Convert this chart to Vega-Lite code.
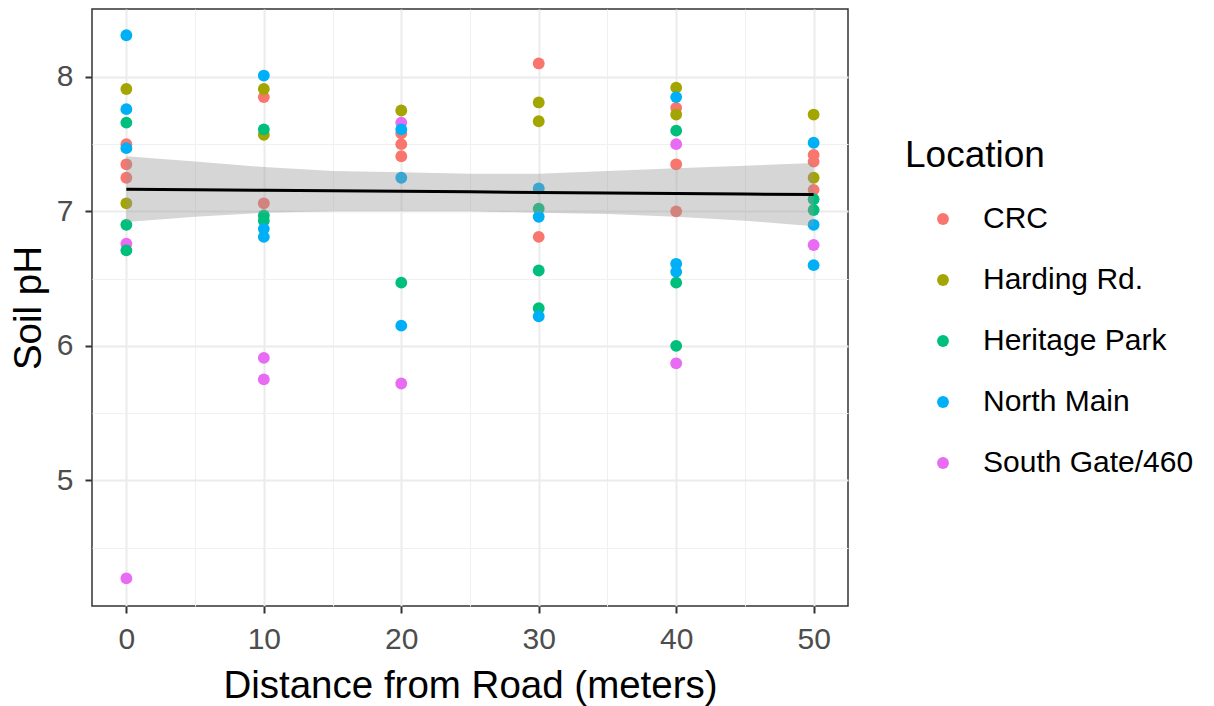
{
  "$schema": "https://vega.github.io/schema/vega-lite/v6.json",
  "width": 756,
  "height": 597,
  "autosize": {"type": "none"},
  "padding": {"left": 92, "top": 9, "right": 366, "bottom": 100},
  "background": "white",
  "config": {
    "font": "Liberation Sans",
    "view": {"stroke": "#333333", "strokeWidth": 1.5},
    "axis": {
      "domain": false,
      "gridColor": "#EBEBEB",
      "tickColor": "#333333",
      "labelColor": "#4D4D4D",
      "labelFont": "Liberation Sans",
      "titleFont": "Liberation Sans",
      "titleColor": "#000000",
      "titleFontWeight": "normal"
    },
    "legend": {
      "labelFont": "Liberation Sans",
      "titleFont": "Liberation Sans"
    }
  },
  "datasets": {
    "pts": [
      {"distance": 0, "ph": 7.50, "location": "CRC"},
      {"distance": 0, "ph": 7.35, "location": "CRC"},
      {"distance": 0, "ph": 7.25, "location": "CRC"},
      {"distance": 0, "ph": 7.91, "location": "Harding Rd."},
      {"distance": 0, "ph": 7.06, "location": "Harding Rd."},
      {"distance": 0, "ph": 7.66, "location": "Heritage Park"},
      {"distance": 0, "ph": 6.90, "location": "Heritage Park"},
      {"distance": 0, "ph": 8.31, "location": "North Main"},
      {"distance": 0, "ph": 7.76, "location": "North Main"},
      {"distance": 0, "ph": 7.47, "location": "North Main"},
      {"distance": 0, "ph": 6.76, "location": "South Gate/460"},
      {"distance": 0, "ph": 4.27, "location": "South Gate/460"},
      {"distance": 0, "ph": 6.71, "location": "Heritage Park"},
      {"distance": 10, "ph": 7.85, "location": "CRC"},
      {"distance": 10, "ph": 7.06, "location": "CRC"},
      {"distance": 10, "ph": 7.91, "location": "Harding Rd."},
      {"distance": 10, "ph": 7.57, "location": "Harding Rd."},
      {"distance": 10, "ph": 7.61, "location": "Heritage Park"},
      {"distance": 10, "ph": 6.97, "location": "Heritage Park"},
      {"distance": 10, "ph": 6.93, "location": "Heritage Park"},
      {"distance": 10, "ph": 8.01, "location": "North Main"},
      {"distance": 10, "ph": 6.87, "location": "North Main"},
      {"distance": 10, "ph": 6.81, "location": "North Main"},
      {"distance": 10, "ph": 5.91, "location": "South Gate/460"},
      {"distance": 10, "ph": 5.75, "location": "South Gate/460"},
      {"distance": 20, "ph": 7.58, "location": "CRC"},
      {"distance": 20, "ph": 7.50, "location": "CRC"},
      {"distance": 20, "ph": 7.41, "location": "CRC"},
      {"distance": 20, "ph": 7.75, "location": "Harding Rd."},
      {"distance": 20, "ph": 6.47, "location": "Heritage Park"},
      {"distance": 20, "ph": 7.66, "location": "South Gate/460"},
      {"distance": 20, "ph": 7.61, "location": "North Main"},
      {"distance": 20, "ph": 7.25, "location": "North Main"},
      {"distance": 20, "ph": 6.15, "location": "North Main"},
      {"distance": 20, "ph": 5.72, "location": "South Gate/460"},
      {"distance": 30, "ph": 8.10, "location": "CRC"},
      {"distance": 30, "ph": 6.81, "location": "CRC"},
      {"distance": 30, "ph": 7.81, "location": "Harding Rd."},
      {"distance": 30, "ph": 7.67, "location": "Harding Rd."},
      {"distance": 30, "ph": 7.02, "location": "Heritage Park"},
      {"distance": 30, "ph": 6.56, "location": "Heritage Park"},
      {"distance": 30, "ph": 6.28, "location": "Heritage Park"},
      {"distance": 30, "ph": 7.17, "location": "North Main"},
      {"distance": 30, "ph": 6.96, "location": "North Main"},
      {"distance": 30, "ph": 6.22, "location": "North Main"},
      {"distance": 40, "ph": 7.77, "location": "CRC"},
      {"distance": 40, "ph": 7.35, "location": "CRC"},
      {"distance": 40, "ph": 7.00, "location": "CRC"},
      {"distance": 40, "ph": 7.92, "location": "Harding Rd."},
      {"distance": 40, "ph": 7.72, "location": "Harding Rd."},
      {"distance": 40, "ph": 7.60, "location": "Heritage Park"},
      {"distance": 40, "ph": 6.47, "location": "Heritage Park"},
      {"distance": 40, "ph": 6.00, "location": "Heritage Park"},
      {"distance": 40, "ph": 7.85, "location": "North Main"},
      {"distance": 40, "ph": 6.61, "location": "North Main"},
      {"distance": 40, "ph": 6.55, "location": "North Main"},
      {"distance": 40, "ph": 7.50, "location": "South Gate/460"},
      {"distance": 40, "ph": 5.87, "location": "South Gate/460"},
      {"distance": 50, "ph": 7.42, "location": "CRC"},
      {"distance": 50, "ph": 7.37, "location": "CRC"},
      {"distance": 50, "ph": 7.16, "location": "CRC"},
      {"distance": 50, "ph": 7.72, "location": "Harding Rd."},
      {"distance": 50, "ph": 7.25, "location": "Harding Rd."},
      {"distance": 50, "ph": 7.09, "location": "Heritage Park"},
      {"distance": 50, "ph": 7.01, "location": "Heritage Park"},
      {"distance": 50, "ph": 7.51, "location": "North Main"},
      {"distance": 50, "ph": 6.90, "location": "North Main"},
      {"distance": 50, "ph": 6.60, "location": "North Main"},
      {"distance": 50, "ph": 6.75, "location": "South Gate/460"}
    ],
    "fit": [
      {"distance": 0, "lo": 6.92, "hi": 7.41, "fit": 7.165},
      {"distance": 5, "lo": 6.96, "hi": 7.37, "fit": 7.161},
      {"distance": 10, "lo": 6.99, "hi": 7.33, "fit": 7.157},
      {"distance": 15, "lo": 7.00, "hi": 7.30, "fit": 7.153},
      {"distance": 20, "lo": 7.00, "hi": 7.29, "fit": 7.149},
      {"distance": 25, "lo": 7.00, "hi": 7.28, "fit": 7.145},
      {"distance": 30, "lo": 6.99, "hi": 7.28, "fit": 7.141},
      {"distance": 35, "lo": 6.98, "hi": 7.30, "fit": 7.137},
      {"distance": 40, "lo": 6.96, "hi": 7.32, "fit": 7.133},
      {"distance": 45, "lo": 6.93, "hi": 7.34, "fit": 7.129},
      {"distance": 50, "lo": 6.89, "hi": 7.36, "fit": 7.125}
    ]
  },
  "layer": [
    {
      "data": {"name": "fit"},
      "mark": {"type": "area", "opacity": 0},
      "encoding": {
        "x": {
          "field": "distance", "type": "quantitative",
          "scale": {"domain": [-2.5, 52.5], "nice": false, "zero": false},
          "axis": {"orient": "bottom", "values": [5, 15, 25, 35, 45], "grid": true, "gridWidth": 1, "gridColor": "#F0F0F0", "labels": false, "ticks": false, "title": null}
        },
        "y": {
          "field": "lo", "type": "quantitative",
          "scale": {"domain": [4.065, 8.505], "nice": false, "zero": false},
          "axis": {"orient": "left", "values": [4.5, 5.5, 6.5, 7.5], "grid": true, "gridWidth": 1, "gridColor": "#F0F0F0", "labels": false, "ticks": false, "title": null}
        },
        "y2": {"field": "hi"}
      }
    },
    {
      "data": {"name": "pts"},
      "mark": {"type": "circle", "size": 140, "opacity": 1},
      "encoding": {
        "x": {
          "field": "distance", "type": "quantitative",
          "axis": {"orient": "bottom", "values": [0, 10, 20, 30, 40, 50], "grid": true, "gridWidth": 2, "tickSize": 7, "tickWidth": 2, "labelFontSize": 30, "labelPadding": 11, "title": "Distance from Road (meters)", "titleFontSize": 38.5, "titlePadding": 13}
        },
        "y": {
          "field": "ph", "type": "quantitative",
          "axis": {"orient": "left", "values": [5, 6, 7, 8], "grid": true, "gridWidth": 2, "tickSize": 7, "tickWidth": 2, "labelFontSize": 30, "labelPadding": 12, "title": "Soil pH", "titleFontSize": 38.5, "titlePadding": 8}
        },
        "color": {
          "field": "location", "type": "nominal",
          "scale": {
            "domain": ["CRC", "Harding Rd.", "Heritage Park", "North Main", "South Gate/460"],
            "range": ["#F8766D", "#A3A500", "#00BF7D", "#00B0F6", "#E76BF3"]
          },
          "legend": {
            "title": "Location",
            "orient": "none",
            "legendX": 813,
            "legendY": 129,
            "padding": 0,
            "titleFontSize": 37,
            "titleFontWeight": "normal",
            "titleColor": "#000000",
            "titlePadding": 29,
            "labelFontSize": 30,
            "labelColor": "#000000",
            "labelLimit": 0,
            "labelOffset": 25,
            "symbolType": "circle",
            "symbolSize": 140,
            "symbolOffset": 23,
            "symbolStrokeWidth": 0,
            "symbolOpacity": 1,
            "rowPadding": 31
          }
        }
      }
    },
    {
      "data": {"name": "fit"},
      "mark": {"type": "area", "color": "#999999", "opacity": 0.4},
      "encoding": {
        "x": {"field": "distance", "type": "quantitative", "axis": null},
        "y": {"field": "lo", "type": "quantitative", "axis": null},
        "y2": {"field": "hi"}
      }
    },
    {
      "data": {"name": "fit"},
      "mark": {"type": "line", "color": "#000000", "strokeWidth": 3},
      "encoding": {
        "x": {"field": "distance", "type": "quantitative", "axis": null},
        "y": {"field": "fit", "type": "quantitative", "axis": null}
      }
    }
  ],
  "resolve": {"axis": {"x": "independent", "y": "independent"}}
}
